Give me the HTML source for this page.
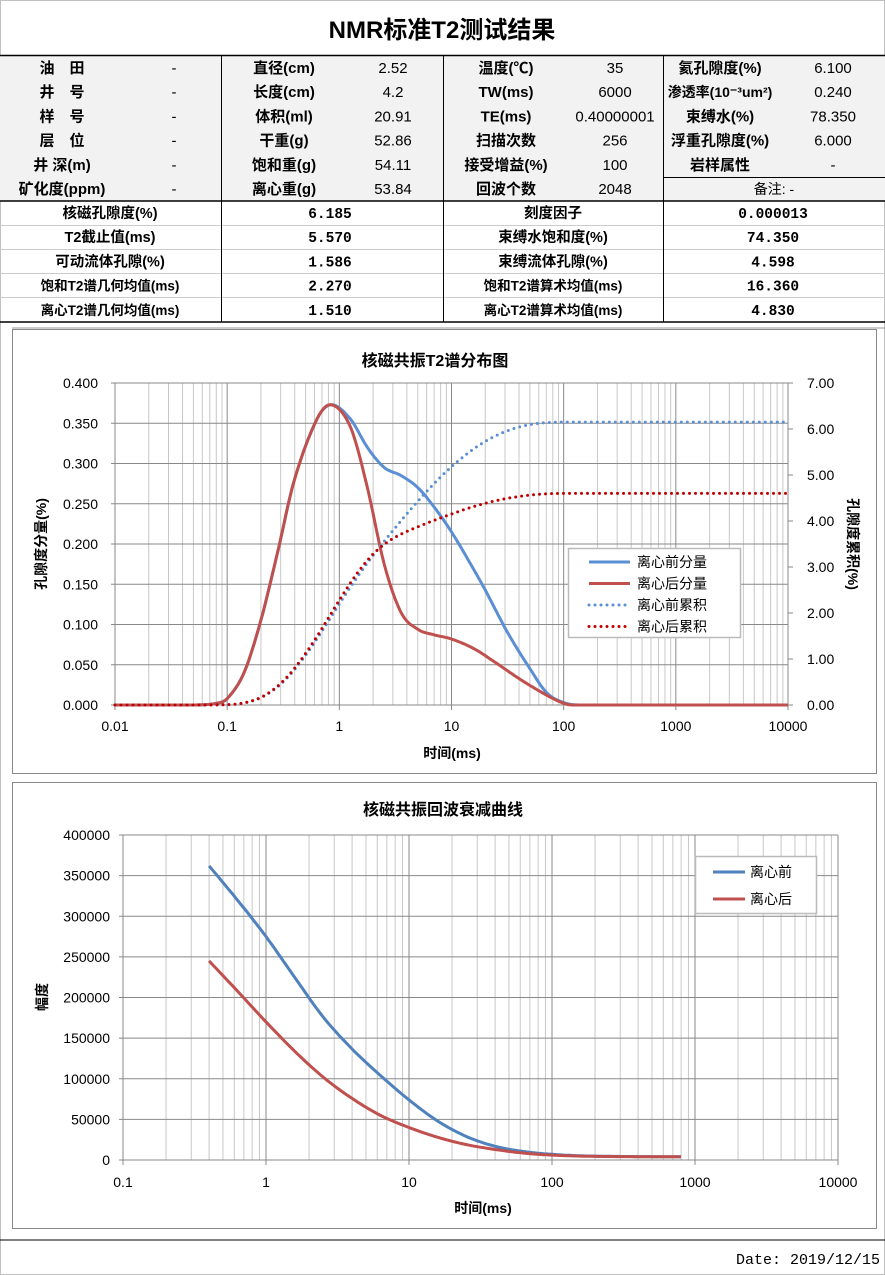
<!DOCTYPE html>
<html><head><meta charset="utf-8">
<style>
body{margin:0;background:#fff}
svg{display:block}
text{font-family:"Liberation Sans","Noto Sans CJK SC",sans-serif;fill:#000}
.b{font-weight:bold}
</style></head><body>
<svg id="s" width="885" height="1275" viewBox="0 0 885 1275" xmlns="http://www.w3.org/2000/svg">
<rect x="0.5" y="0.5" width="884" height="1274" fill="#fff" stroke="#c0c0c0"/>
<text x="442" y="38" font-size="24" class="b" text-anchor="middle">NMR标准T2测试结果</text>
<rect x="0" y="55" width="885" height="146" fill="#f2f2f2"/>
<line x1="0" y1="55.5" x2="885" y2="55.5" stroke="#000" stroke-width="1.5"/>
<line x1="0" y1="201" x2="885" y2="201" stroke="#000" stroke-width="1.5"/>
<line x1="0" y1="322" x2="885" y2="322" stroke="#000" stroke-width="1.5"/>
<line x1="12" y1="328" x2="885" y2="328" stroke="#999" stroke-width="1"/>
<line x1="663" y1="177.5" x2="885" y2="177.5" stroke="#000"/>
<g stroke="#ccc"><line x1="0" y1="225.5" x2="885" y2="225.5"/><line x1="0" y1="249.5" x2="885" y2="249.5"/><line x1="0" y1="273.5" x2="885" y2="273.5"/><line x1="0" y1="297.5" x2="885" y2="297.5"/></g>
<g stroke="#000"><line x1="221.5" y1="55" x2="221.5" y2="322"/><line x1="443.5" y1="55" x2="443.5" y2="322"/><line x1="663.5" y1="55" x2="663.5" y2="322"/></g>
<g id="tbl" font-size="15"></g>
<rect x="12.5" y="329.5" width="864" height="444" fill="none" stroke="#888"/>
<rect x="12.5" y="782.5" width="864" height="446" fill="none" stroke="#888"/>
<g id="c1"></g><g id="c2"></g>
<line x1="0" y1="1240" x2="885" y2="1240" stroke="#000"/>
<text x="880" y="1264" font-size="15" text-anchor="end" style="font-family:'Liberation Mono',monospace">Date: 2019/12/15</text>
</svg>
<script>
const NS="http://www.w3.org/2000/svg";
function el(p,t,a,txt){const e=document.createElementNS(NS,t);for(const k in a)e.setAttribute(k,a[k]);if(txt!==undefined)e.textContent=txt;p.appendChild(e);return e;}
const T=document.getElementById('tbl');
const rows=[["油　田","-","直径(cm)","2.52","温度(℃)","35","氦孔隙度(%)","6.100"],
["井　号","-","长度(cm)","4.2","TW(ms)","6000","渗透率(10⁻³um²)","0.240"],
["样　号","-","体积(ml)","20.91","TE(ms)","0.40000001","束缚水(%)","78.350"],
["层　位","-","干重(g)","52.86","扫描次数","256","浮重孔隙度(%)","6.000"],
["井 深(m)","-","饱和重(g)","54.11","接受增益(%)","100","岩样属性","-"],
["矿化度(ppm)","-","离心重(g)","53.84","回波个数","2048","",""]];
const xs=[62,174,284,393,506,615,720,833];
rows.forEach((r,i)=>{const y=73+i*24.2;r.forEach((t,j)=>{if(t)el(T,'text',{x:xs[j],y:y,'text-anchor':'middle','font-weight':j%2==0?'bold':'normal','font-size':j==6&&i==1?14:15},t);});});
el(T,'text',{x:774,y:194,'text-anchor':'middle','font-size':14},'备注: -');
const rows2=[["核磁孔隙度(%)","6.185","刻度因子","0.000013"],["T2截止值(ms)","5.570","束缚水饱和度(%)","74.350"],["可动流体孔隙(%)","1.586","束缚流体孔隙(%)","4.598"],["饱和T2谱几何均值(ms)","2.270","饱和T2谱算术均值(ms)","16.360"],["离心T2谱几何均值(ms)","1.510","离心T2谱算术均值(ms)","4.830"]];
const xs2=[110,330,553,773];
rows2.forEach((r,i)=>{const y=218+i*24.2;r.forEach((t,j)=>el(T,'text',{x:xs2[j],y:y,'text-anchor':'middle','font-weight':'bold','font-size':j%2==0&&t.length>9?13.5:14.5,style:j%2?"font-family:'Liberation Mono',monospace":""},t));});

function interp(pts,x){
 if(x<=pts[0][0])return pts[0][1]; if(x>=pts[pts.length-1][0])return pts[pts.length-1][1];
 let i=0;while(pts[i+1][0]<x)i++;
 const p0=pts[Math.max(i-1,0)],p1=pts[i],p2=pts[i+1],p3=pts[Math.min(i+2,pts.length-1)];
 const t=(x-p1[0])/(p2[0]-p1[0]);
 const m1=(p2[1]-p0[1])/(p2[0]-p0[0])*(p2[0]-p1[0]), m2=(p3[1]-p1[1])/(p3[0]-p1[0])*(p2[0]-p1[0]);
 const t2=t*t,t3=t2*t;
 return (2*t3-3*t2+1)*p1[1]+(t3-2*t2+t)*m1+(-2*t3+3*t2)*p2[1]+(t3-t2)*m2;}

function grid(g,x0,x1,y0,y1,dec0,ndec,nh){
 const pd=(x1-x0)/ndec;
 for(let d=0;d<ndec;d++)for(let k=2;k<10;k++){const x=x0+pd*(d+Math.log10(k));el(g,'line',{x1:x,x2:x,y1:y0,y2:y1,stroke:'#c8c8c8','stroke-width':1});}
 for(let d=0;d<=ndec;d++){const x=x0+pd*d;el(g,'line',{x1:x,x2:x,y1:y0,y2:y1+5,stroke:'#888'});}
 for(let i=0;i<=nh;i++){const y=y1-(y1-y0)*i/nh;el(g,'line',{x1:x0-4,x2:x1,y1:y,y2:y,stroke:'#888'});}
}
(function(){
 const g=document.getElementById('c1');
 const X0=115,X1=788,Y0=383,Y1=705;
 el(g,'text',{x:435,y:366,'text-anchor':'middle','font-size':16,'font-weight':'bold'},'核磁共振T2谱分布图');
 grid(g,X0,X1,Y0,Y1,-2,6,8);
 el(g,'line',{x1:X1,x2:X1+4,y1:Y0,y2:Y0,stroke:'#888'});
 for(let i=0;i<=8;i++){const y=Y1-(Y1-Y0)*i/8;el(g,'text',{x:98,y:y+5,'text-anchor':'end','font-size':14},(0.05*i).toFixed(3));}
 for(let i=0;i<=7;i++){const y=Y1-(Y1-Y0)*i/7;el(g,'line',{x1:X1,x2:X1+5,y1:y,y2:y,stroke:'#888'});el(g,'text',{x:807,y:y+5,'font-size':14},i.toFixed(2));}
 ['0.01','0.1','1','10','100','1000','10000'].forEach((t,i)=>el(g,'text',{x:X0+i*(X1-X0)/6,y:731,'text-anchor':'middle','font-size':14},t));
 el(g,'text',{x:452,y:758,'text-anchor':'middle','font-size':14,'font-weight':'bold'},'时间(ms)');
 el(g,'text',{x:0,y:0,transform:'translate(46,544) rotate(-90)','text-anchor':'middle','font-size':14,'font-weight':'bold'},'孔隙度分量(%)');
 el(g,'text',{x:0,y:0,transform:'translate(848,544) rotate(90)','text-anchor':'middle','font-size':14,'font-weight':'bold'},'孔隙度累积(%)');
 const up=[[-2.2,0],[-1.3,0],[-1.1,0.002],[-1,0.008],[-0.85,0.04],[-0.7,0.105],[-0.55,0.19],[-0.4,0.28],[-0.2,0.355],[-0.07,0.373]];
 const B=up.concat([[0.1,0.355],[0.25,0.32],[0.4,0.295],[0.55,0.285],[0.7,0.27],[0.85,0.245],[1,0.215],[1.15,0.18],[1.3,0.143],[1.5,0.09],[1.7,0.045],[1.85,0.015],[2,0.003],[2.15,0],[4.2,0]]);
 const R=up.concat([[0.1,0.345],[0.25,0.27],[0.4,0.175],[0.55,0.115],[0.7,0.094],[0.85,0.087],[1,0.082],[1.2,0.07],[1.4,0.052],[1.6,0.033],[1.8,0.016],[1.95,0.005],[2.07,0],[4.2,0]]);
 const px=l=>X0+(l+2)*(X1-X0)/6, py=v=>Y1-v/0.4*(Y1-Y0), pyr=v=>Y1-v/7*(Y1-Y0);
 function curve(P,col,fin){let d='',cum=[],s=0,L=[];for(let l=-2;l<=4.0001;l+=0.02){let v=Math.max(0,interp(P,l));L.push([l,v]);}
  L.forEach((p,i)=>{d+=(i?'L':'M')+px(p[0]).toFixed(1)+','+py(p[1]).toFixed(1);s+=p[1];cum.push(s);});
  el(g,'path',{d:d,fill:'none',stroke:col,'stroke-width':3});
  let dc='';L.forEach((p,i)=>{if(i%2==0)dc+=(dc?'L':'M')+px(p[0]).toFixed(1)+','+pyr(cum[i]/s*fin).toFixed(1);});
  return dc;}
 const dB=curve(B,'#5b8fd4',6.15), dR=curve(R,'#c0504d',4.6);
 el(g,'path',{d:dB,fill:'none',stroke:'#5b8fd4','stroke-width':3,'stroke-dasharray':'0 6','stroke-linecap':'round'});
 el(g,'path',{d:dR,fill:'none',stroke:'#c00000','stroke-width':3,'stroke-dasharray':'0 6','stroke-linecap':'round'});
 el(g,'rect',{x:568.5,y:548.5,width:172,height:89,fill:'#fff',stroke:'#bbb','stroke-width':1.5});
 const lg=[['离心前分量','#5b8fd4',0],['离心后分量','#c0504d',0],['离心前累积','#5b8fd4',1],['离心后累积','#c00000',1]];
 lg.forEach((l,i)=>{const y=562+i*21.5;const a={x1:589,x2:630,y1:y,y2:y,stroke:l[1],'stroke-width':3};if(l[2]){a['stroke-dasharray']='0 6';a['stroke-linecap']='round';}el(g,'line',a);el(g,'text',{x:637,y:y+5,'font-size':14},l[0]);});
})();
(function(){
 const g=document.getElementById('c2');
 const X0=123,X1=838,Y0=835,Y1=1160;
 el(g,'text',{x:443,y:815,'text-anchor':'middle','font-size':16,'font-weight':'bold'},'核磁共振回波衰减曲线');
 grid(g,X0,X1,Y0,Y1,-1,5,8);
 for(let i=0;i<=8;i++){const y=Y1-(Y1-Y0)*i/8;el(g,'text',{x:110,y:y+5,'text-anchor':'end','font-size':14},String(50000*i));}
 ['0.1','1','10','100','1000','10000'].forEach((t,i)=>el(g,'text',{x:X0+i*(X1-X0)/5,y:1187,'text-anchor':'middle','font-size':14},t));
 el(g,'text',{x:483,y:1213,'text-anchor':'middle','font-size':14,'font-weight':'bold'},'时间(ms)');
 el(g,'text',{x:0,y:0,transform:'translate(47,997) rotate(-90)','text-anchor':'middle','font-size':14,'font-weight':'bold'},'幅度');
 const px=l=>X0+(l+1)*(X1-X0)/5, py=v=>Y1-v/400000*(Y1-Y0);
 const B=[[-0.398,362],[-0.2,320],[0,275],[0.2,225],[0.4,176],[0.6,137],[0.8,104],[1.0,74],[1.2,48],[1.4,29],[1.6,17],[1.8,10.5],[2.0,7],[2.2,5.2],[2.4,4.5],[2.6,4.2],[2.91,4.0]].map(p=>[p[0],p[1]*1000]);
 const R=[[-0.398,245],[-0.2,208],[0,170],[0.2,134],[0.4,102],[0.6,76],[0.8,55],[1.0,40],[1.2,28],[1.4,19],[1.6,13],[1.8,8.5],[2.0,6],[2.2,4.8],[2.4,4.3],[2.6,4.1],[2.91,4.0]].map(p=>[p[0],p[1]*1000]);
 [[B,'#4f81bd'],[R,'#c0504d']].forEach(c=>{let d='';for(let l=-0.398;l<=2.91+1e-6;l+=0.02){d+=(d?'L':'M')+px(l).toFixed(1)+','+py(interp(c[0],l)).toFixed(1);}
  el(g,'path',{d:d,fill:'none',stroke:c[1],'stroke-width':3});});
 el(g,'rect',{x:695.5,y:856.5,width:121,height:57,fill:'#fff',stroke:'#bbb','stroke-width':1.5});
 [['离心前','#4f81bd'],['离心后','#c0504d']].forEach((l,i)=>{const y=872+i*27;el(g,'line',{x1:713,x2:745,y1:y,y2:y,stroke:l[1],'stroke-width':3});el(g,'text',{x:750,y:y+5,'font-size':14},l[0]);});
})();
</script>
</body></html>
